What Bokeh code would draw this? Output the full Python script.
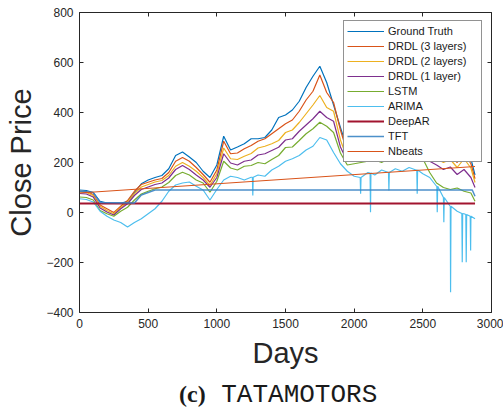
from bokeh.plotting import figure
from bokeh.models import Range1d, LinearAxis, FixedTicker, Div, CustomLabelingPolicy
from bokeh.layouts import column
from bokeh.embed import file_html
from bokeh.resources import INLINE

# ---------------- data ----------------
days = list(range(0, 2851, 50)) + [2880]

ground_truth = [90, 88, 80, 45, 38, 36, 37, 45, 80, 115,
                130, 140, 148, 175, 228, 242, 222, 200, 165, 140,
                190, 305, 250, 262, 275, 295, 295, 300, 330, 380,
                390, 410, 445, 500, 545, 585, 520, 430, 340, 255,
                270, 290, 280, 300, 295, 310, 300, 315, 305, 320,
                300, 280, 265, 245, 255, 220, 255, 215, 150]

drdl3 = [85, 84, 72, 30, 15, 0, 25, 48, 85, 112,
         121, 130, 136, 160, 205, 220, 205, 180, 152, 121,
         170, 285, 235, 238, 255, 268, 285, 295, 315, 335,
         355, 370, 405, 450, 485, 550, 480, 440, 330, 240,
         250, 265, 255, 275, 270, 285, 275, 290, 280, 295,
         275, 255, 240, 220, 232, 200, 238, 195, 135]

drdl2 = [82, 80, 68, 25, 8, -5, 20, 41, 75, 102,
         112, 122, 128, 148, 185, 200, 185, 165, 140, 108,
         155, 258, 215, 212, 225, 236, 258, 265, 275, 288,
         320, 330, 360, 395, 430, 468, 420, 405, 290, 215,
         225, 238, 230, 245, 240, 255, 245, 258, 250, 262,
         245, 228, 215, 200, 212, 180, 215, 178, 120]

drdl1 = [76, 74, 62, 18, 2, -10, 15, 35, 68, 92,
         102, 112, 118, 138, 172, 188, 172, 150, 130, 101,
         140, 235, 198, 190, 205, 210, 230, 235, 248, 261,
         290, 295, 325, 350, 375, 405, 380, 365, 262, 205,
         205, 215, 210, 222, 218, 230, 222, 232, 225, 236,
         220, 205, 190, 172, 182, 152, 172, 140, 100]

lstm = [62, 60, 50, 8, -5, -15, 5, 21, 50, 74,
        85, 95, 102, 120, 148, 161, 150, 130, 118, 81,
        125, 205, 178, 170, 185, 188, 200, 195, 212, 228,
        260, 262, 288, 315, 335, 361, 345, 320, 238, 190,
        195, 200, 205, 210, 200, 215, 205, 220, 210, 228,
        215, 160, 118, 100, 92, 98, 85, 78, 45]

arima = [55, 52, 42, 5, -15, -30, -40, -58, -40, -25,
         -5, 15, 45, 85, 110, 118, 122, 105, 90, 50,
         92, 130, 145, 140, 130, 141, 150, 145, 170, 185,
         205, 215, 228, 250, 265, 300, 290, 240, 195, 165,
         145, 140, 160, 150, 170, 160, 175, 165, 180, 170,
         155, 140, 105, 60, 25, 5, -5, -15, -25]

# downward spikes of the ARIMA curve: day, local level, spike bottom
arima_spike_days = [1262, 2047, 2119, 2253, 2459, 2605, 2653, 2702, 2787, 2816, 2848]
arima_spike_level = [141, 140, 158, 160, 170, 105, 60, 25, -4, -8, -15]
arima_spike_low = [68, 75, 1, 88, 75, 1, -39, -319, -199, -199, -152]

deepar_days = [0, 2880]
deepar = [36, 36]

tft_days = [0, 100, 150, 400, 450, 550, 2860, 2880]
tft = [85, 80, 40, 38, 70, 90, 90, 65]

nbeats_days = [0, 2880]
nbeats = [78, 184]

x_ticks = [0, 500, 1000, 1500, 2000, 2500, 3000]
y_ticks = [-400, -200, 0, 200, 400, 600, 800]

# assemble ARIMA with its thin spikes
pts = list(zip(days, arima))
for d, lv, lo in zip(arima_spike_days, arima_spike_level, arima_spike_low):
    pts += [(d - 3, lv), (d, lo), (d + 3, lv)]
pts.sort()
arima_x = [a for a, b in pts]
arima_y = [b for a, b in pts]

# ---------------- figure ----------------
FONT = "Liberation Sans"
AX = "#262626"

p = figure(width=503, height=372, x_range=Range1d(0, 3000), y_range=Range1d(-400, 800),
           output_backend="svg", toolbar_location=None,
           min_border_left=79, min_border_right=12, min_border_top=12, min_border_bottom=60)
p.grid.visible = False
p.outline_line_color = None
p.background_fill_color = "white"

series = [
    (days, ground_truth, "Ground Truth", "#0072BD", 1.2, 1.0),
    (days, drdl3, "DRDL (3 layers)", "#D95319", 1.2, 1.0),
    (days, drdl2, "DRDL (2 layers)", "#EDB120", 1.2, 1.0),
    (days, drdl1, "DRDL (1 layer)", "#7E2F8E", 1.2, 1.0),
    (days, lstm, "LSTM", "#77AC30", 1.2, 1.0),
    (arima_x, arima_y, "ARIMA", "#4DBEEE", 1.2, 1.0),
    (deepar_days, deepar, "DeepAR", "#A2142F", 1.8, 1.0),
    (tft_days, tft, "TFT", "#3A84C4", 1.5, 0.9),
    (nbeats_days, nbeats, "Nbeats", "#D95319", 1.0, 1.0),
]
for xs, ys, name, col, lw, al in series:
    p.line(xs, ys, line_color=col, line_width=lw, line_alpha=al, legend_label=name)

hide_labels = CustomLabelingPolicy(code="""
for (const i of indices) { indices.unset(i) }
return indices
""")

def style_axis(ax, ticks, labels=True):
    ax.ticker = FixedTicker(ticks=ticks)
    ax.axis_line_color = AX
    ax.axis_line_width = 1
    ax.major_tick_line_color = AX
    ax.major_tick_in = 4
    ax.major_tick_out = 0
    ax.minor_tick_in = 0
    ax.minor_tick_out = 0
    ax.major_label_text_font = FONT
    ax.major_label_text_color = AX
    if labels:
        ax.major_label_text_font_size = "12px"
        ax.major_label_standoff = 6
    else:
        ax.major_label_text_font_size = "1px"
        ax.major_label_standoff = 0
        ax.major_label_policy = hide_labels

p.add_layout(LinearAxis(), "above")
p.add_layout(LinearAxis(), "right")
for ax in p.below:
    style_axis(ax, x_ticks)
    ax.axis_label = "Days"
for ax in p.left:
    style_axis(ax, y_ticks)
    ax.axis_label = "Close Price"
for ax in p.above:
    style_axis(ax, x_ticks, labels=False)
for ax in p.right:
    style_axis(ax, y_ticks, labels=False)
for ax in p.below + p.left:
    ax.axis_label_text_font = FONT
    ax.axis_label_text_font_size = "29px"
    ax.axis_label_text_font_style = "normal"
    ax.axis_label_text_color = AX
    ax.axis_label_standoff = 6

lg = p.legend[0]
lg.location = (264, 150)
lg.label_text_font = FONT
lg.label_text_font_size = "11px"
lg.label_text_color = "#1a1a1a"
lg.glyph_width = 37
lg.glyph_height = 14
lg.label_height = 14
lg.label_width = 90
lg.label_standoff = 4
lg.spacing = 1
lg.padding = 3
lg.margin = 0
lg.border_line_color = AX
lg.border_line_width = 1
lg.background_fill_color = "white"
lg.background_fill_alpha = 1.0

caption = Div(
    text='<span style="font-family:\'Liberation Serif\';font-weight:bold;font-size:24px">(c)</span>'
         '<span style="font-family:\'Liberation Mono\';font-size:26px">&nbsp;TATAMOTORS</span>',
    width=503, height=39,
    styles={"padding-left": "174px", "padding-top": "2px", "line-height": "30px",
            "color": "#1a1a1a", "white-space": "nowrap", "box-sizing": "border-box"})

layout = column(p, caption, spacing=0)
open("out.html", "w").write(file_html(layout, INLINE))
